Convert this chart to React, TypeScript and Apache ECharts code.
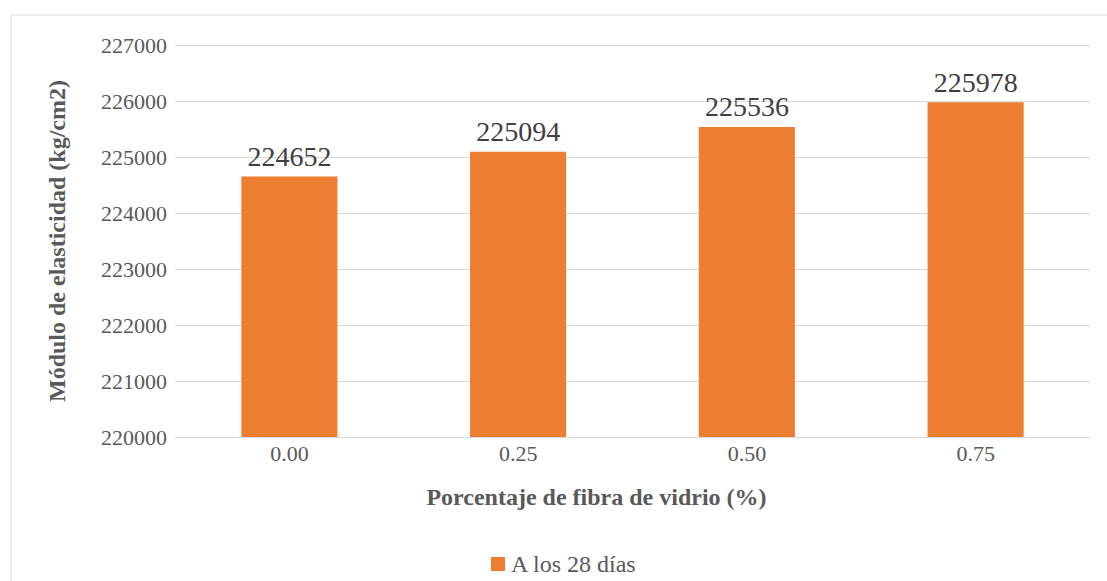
import React, { useEffect, useRef } from "react";
import * as echarts from "echarts";

// Fibre percentage categories and elastic modulus at 28 days
const categories = ["0.00", "0.25", "0.50", "0.75"];
const modulus28 = [224652, 225094, 225536, 225978];
const seriesName = "A los 28 días";

const serif = "Liberation Serif, serif";

export default function App() {
  const ref = useRef<HTMLDivElement>(null);

  useEffect(() => {
    if (!ref.current) return;
    const chart = echarts.init(ref.current, undefined, { renderer: "svg" });
    chart.setOption({
      animation: false,
      backgroundColor: "#ffffff",
      graphic: [
        {
          type: "rect",
          shape: { x: 11, y: 15, width: 1110, height: 600 },
          style: { fill: "none", stroke: "#d9d9d9", lineWidth: 1 },
          silent: true,
          z: -1,
        },
      ],
      grid: { left: 175, right: 17, top: 45, bottom: 144 },
      legend: {
        data: [seriesName],
        bottom: 0,
        left: 486,
        itemWidth: 14,
        itemHeight: 14,
        itemGap: 8,
        icon: "rect",
        textStyle: { fontFamily: serif, fontSize: 24, color: "#595959", padding: [0, 0, 0, 1] },
      },
      xAxis: {
        type: "category",
        data: categories,
        name: "Porcentaje de fibra de vidrio (%)",
        nameLocation: "middle",
        nameGap: 48,
        nameTextStyle: {
          fontFamily: serif,
          fontSize: 24,
          fontWeight: "bold",
          color: "#595959",
          padding: [0, 72, 0, 0],
        },
        axisLine: { lineStyle: { color: "#d9d9d9", width: 1 } },
        axisTick: { show: false },
        axisLabel: { fontFamily: serif, fontSize: 22, color: "#595959", margin: 5 },
      },
      yAxis: {
        type: "value",
        min: 220000,
        max: 227000,
        interval: 1000,
        name: "Módulo de elasticidad (kg/cm2)",
        nameLocation: "middle",
        nameGap: 106,
        nameTextStyle: { fontFamily: serif, fontSize: 24, fontWeight: "bold", color: "#595959" },
        axisLine: { show: false },
        axisTick: { show: false },
        splitLine: { lineStyle: { color: "#d9d9d9", width: 1 } },
        axisLabel: {
          fontFamily: serif,
          fontSize: 22,
          color: "#595959",
          margin: 8,
          formatter: (v: number) => String(v),
        },
      },
      series: [
        {
          name: seriesName,
          type: "bar",
          data: modulus28,
          barWidth: "42%",
          itemStyle: { color: "#ed7d31" },
          label: {
            show: true,
            position: "top",
            distance: 6,
            fontFamily: serif,
            fontSize: 28,
            color: "#404040",
          },
        },
      ],
    });
    return () => chart.dispose();
  }, []);

  return (
    <div
      ref={ref}
      style={{ position: "absolute", left: 0, top: 0, width: 1107, height: 581 }}
    />
  );
}
